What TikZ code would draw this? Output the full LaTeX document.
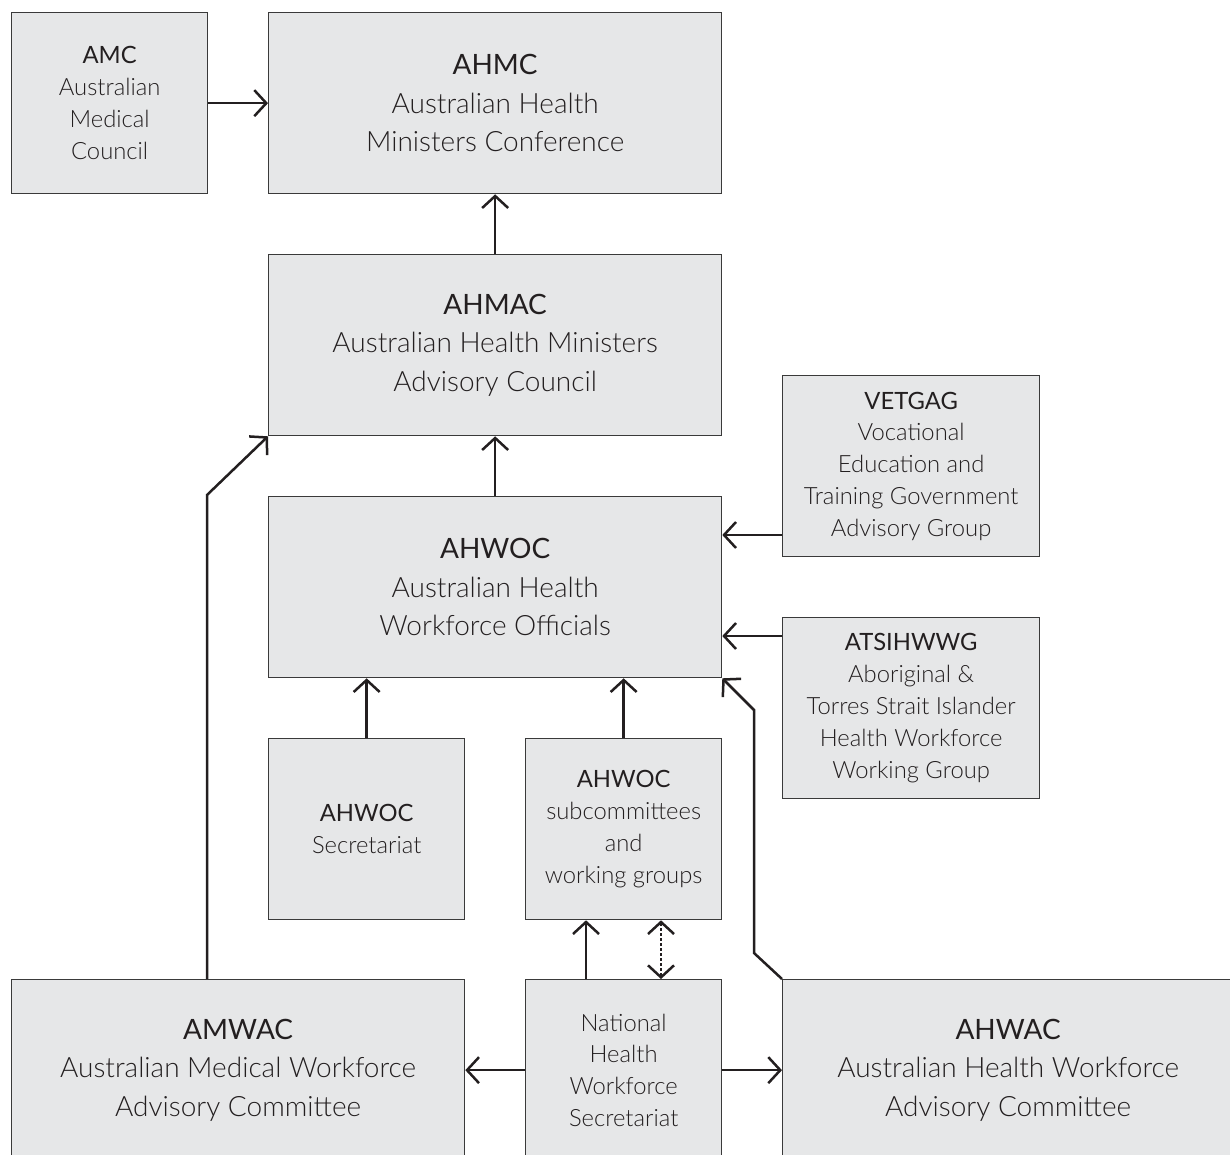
\documentclass[tikz,border=0pt]{standalone}
\usepackage{fontspec}
\setmainfont{Lato}[UprightFont=* Light, BoldFont=* Regular]
\usetikzlibrary{arrows.meta,calc}
\definecolor{boxfill}{HTML}{E6E7E8}
\definecolor{boxline}{HTML}{3A3A3A}
\definecolor{ink}{HTML}{231F20}
\tikzset{
  orgbox/.style={draw=boxline, line width=1.3pt, fill=boxfill, anchor=north west,
    inner sep=0pt, align=center, text=ink},
  bigbox/.style={orgbox, minimum width=453pt, minimum height=181pt,
    font=\fontsize{28}{38.5}\selectfont},
  smallbox/.style={orgbox, minimum width=196pt, minimum height=181pt,
    font=\fontsize{23.8}{31.8}\selectfont},
  arr/.style={draw=ink, line width=2.5pt, -{Straight Barb[length=12pt,width=26pt]}},
  darr/.style={draw=ink, line width=2.5pt, dash pattern=on 2.5pt off 2.5pt, {Straight Barb[length=12pt,width=26pt]}-{Straight Barb[length=12pt,width=26pt]}}
}
\newcommand{\ttlx}[1]{{\bfseries #1}}
\begin{document}
\begin{tikzpicture}[x=1pt,y=-1pt]
\useasboundingbox (0,0) rectangle (1230,1155);
\clip (0,0) rectangle (1230,1155);
\node[smallbox] (amc) at (11,12) {\ttlx{AMC}\\Australian\\Medical\\Council};
\node[bigbox] (ahmc) at (268,12) {\ttlx{AHMC}\\Australian Health\\Ministers Conference};
\node[bigbox] (ahmac) at (268,254) {\ttlx{AHMAC}\\Australian Health Ministers\\Advisory Council};
\node[smallbox, minimum width=257pt] (vetgag) at (782,375) {\ttlx{VETGAG}\\Vocational\\Education and\\Training Government\\Advisory Group};
\node[bigbox] (ahwoc) at (268,496) {\ttlx{AHWOC}\\Australian Health\\Workforce Officials};
\node[smallbox, minimum width=257pt] (atsi) at (782,617) {\ttlx{ATSIHWWG}\\Aboriginal \&\\Torres Strait Islander\\Health Workforce\\Working Group};
\node[smallbox] (sec) at (268,738) {\ttlx{AHWOC}\\Secretariat};
\node[smallbox] (sub) at (525,738) {\ttlx{AHWOC}\\subcommittees\\and\\working groups};
\node[bigbox] (amwac) at (11,979) {\ttlx{AMWAC}\\Australian Medical Workforce\\Advisory Committee};
\node[smallbox] (nhws) at (525,979) {National\\Health\\Workforce\\Secretariat};
% AHWAC box runs past the right edge of the picture
\draw[draw=boxline, line width=1.3pt, fill=boxfill] (782.65,979.65) rectangle (1260,1160);
\node[bigbox, draw=none, fill=none, minimum width=451pt] (ahwac) at (782,979) {\ttlx{AHWAC}\\Australian Health Workforce\\Advisory Committee};
% helper coordinates
\coordinate (yv) at (0,535);
\coordinate (ya) at (0,636);
\coordinate (xn) at (586,0);
\coordinate (xd) at (661,0);
\coordinate (xa) at (207,0);
\coordinate (b1) at (207,495);
\coordinate (c1) at (754,953);
\coordinate (c2) at (754,710);
% connectors
\draw[arr] (amc.east) -- (ahmc.west);
\draw[arr] (ahmac.north) -- (ahmc.south);
\draw[arr] (ahwoc.north) -- (ahmac.south);
\draw[arr] (vetgag.west |- yv) -- (ahwoc.east |- yv);
\draw[arr] (atsi.west |- ya) -- (ahwoc.east |- ya);
\draw[arr] (sec.north) -- (sec.north |- ahwoc.south);
\draw[arr] (sub.north) -- (sub.north |- ahwoc.south);
\draw[arr] (xn |- nhws.north) -- (xn |- sub.south);
\draw[darr] (xd |- sub.south) -- (xd |- nhws.north);
\draw[arr] (nhws.west) -- (amwac.east);
\draw[arr] (nhws.east) -- (ahwac.west);
\draw[arr] (xa |- amwac.north) -- (b1) -- (ahmac.south west);
\draw[arr] (ahwac.north west) -- (c1) -- (c2) -- (ahwoc.south east);
\end{tikzpicture}
\end{document}
